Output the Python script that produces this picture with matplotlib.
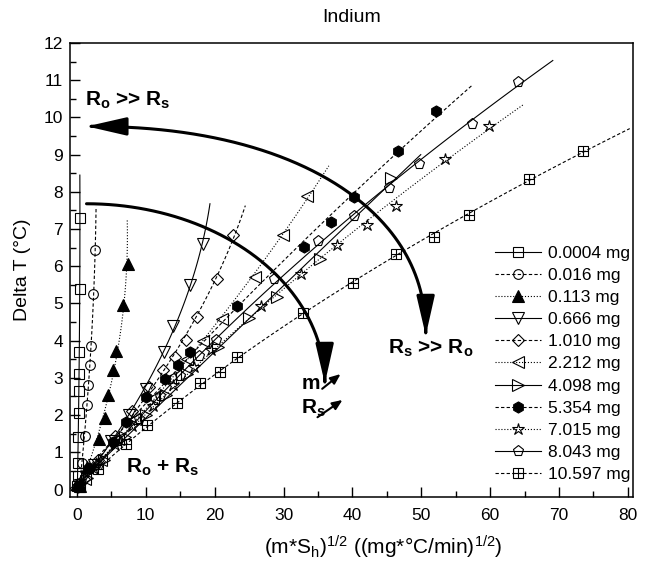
import numpy as np
import matplotlib
matplotlib.use('Agg')
import matplotlib.pyplot as plt
from matplotlib.lines import Line2D
from matplotlib.patches import FancyArrowPatch
from matplotlib.path import Path

plt.rcParams['font.family'] = ['Liberation Sans', 'DejaVu Sans']
plt.rcParams['mathtext.fontset'] = 'custom'
plt.rcParams['mathtext.rm'] = 'Liberation Sans'
plt.rcParams['mathtext.it'] = 'Liberation Sans:italic'
plt.rcParams['mathtext.bf'] = 'Liberation Sans:bold'

# sample masses (legend)
labels = ['0.0004 mg', '0.016 mg', '0.113 mg', '0.666 mg', '1.010 mg', '2.212 mg',
          '4.098 mg', '5.354 mg', '7.015 mg', '8.043 mg', '10.597 mg']

# (m*Sh)^1/2 and Delta T
x_0004 = [0.05, 0.1, 0.15, 0.2, 0.25, 0.3, 0.3, 0.35, 0.4, 0.45]
y_0004 = [0.1, 0.35, 0.7, 1.4, 2.05, 2.65, 3.1, 3.7, 5.4, 7.3]
x_016 = [0.3, 0.8, 1.2, 1.5, 1.6, 1.9, 2.0, 2.4, 2.7]
y_016 = [0.15, 0.7, 1.45, 2.26, 2.8, 3.35, 3.85, 5.25, 6.45]
x_113 = [0.4, 1.5, 3.2, 4.1, 4.5, 5.2, 5.75, 6.7, 7.4]
y_113 = [0.1, 0.6, 1.37, 1.91, 2.53, 3.22, 3.71, 4.97, 6.05]
x_666 = [0.5, 2.5, 5, 7.5, 10, 12.7, 14.0, 16.4, 18.3]
y_666 = [0.13, 0.65, 1.3, 2.0, 2.7, 3.7, 4.4, 5.5, 6.6]
x_1010 = [1, 3, 5.5, 8, 10.5, 12.5, 14.2, 15.9, 17.5, 20.3, 22.6]
y_1010 = [0.28, 0.8, 1.45, 2.1, 2.75, 3.2, 3.55, 4.02, 4.63, 5.67, 6.83]
x_2212 = [1.2, 3.5, 6, 8.5, 11, 13.5, 16, 18.3, 21.1, 25.8, 29.9, 33.4]
y_2212 = [0.27, 0.8, 1.35, 1.9, 2.45, 3.0, 3.5, 4.0, 4.57, 5.71, 6.83, 7.9]
x_4098 = [1.5, 4, 7, 10, 13, 16, 20.5, 25, 29, 35.3, 45.6]
y_4098 = [0.3, 0.8, 1.4, 2.0, 2.55, 3.1, 3.83, 4.62, 5.17, 6.2, 8.36]
x_5354 = [0.1, 1.8, 5.2, 7.2, 10.1, 12.8, 14.7, 16.4, 23.2, 33.0, 36.9, 40.3, 46.6, 52.2]
y_5354 = [0.08, 0.57, 1.27, 1.81, 2.48, 2.98, 3.35, 3.69, 4.93, 6.53, 7.2, 7.86, 9.09, 10.17]
x_7015 = [0.5, 2.5, 5.5, 8, 11, 14, 17, 19.5, 26.7, 32.6, 37.7, 42.1, 46.3, 53.4, 59.8]
y_7015 = [0.12, 0.55, 1.2, 1.7, 2.25, 2.8, 3.3, 3.75, 4.92, 5.8, 6.56, 7.12, 7.61, 8.87, 9.78]
x_8043 = [0.5, 3, 6, 9, 12, 15, 17.7, 20.2, 28.6, 35.0, 40.3, 45.3, 49.6, 57.3, 64.0]
y_8043 = [0.1, 0.65, 1.3, 1.9, 2.5, 3.05, 3.6, 4.03, 5.66, 6.69, 7.35, 8.11, 8.76, 9.83, 10.95]
x_10597 = [0.5, 3.1, 7.1, 10.2, 14.6, 17.9, 20.8, 23.2, 32.8, 40.1, 46.4, 51.9, 56.9, 65.7, 73.5]
y_10597 = [0.08, 0.55, 1.23, 1.73, 2.32, 2.86, 3.17, 3.55, 4.75, 5.56, 6.33, 6.78, 7.39, 8.35, 9.09]

# where each fitted line stops (Delta T)
fit_end = [8.45, 7.6, 7.25, 7.68, 7.63, 8.7, 9.0, 10.86, 10.35, 11.53, 9.7]

xs = [x_0004, x_016, x_113, x_666, x_1010, x_2212, x_4098, x_5354, x_7015, x_8043, x_10597]
ys = [y_0004, y_016, y_113, y_666, y_1010, y_2212, y_4098, y_5354, y_7015, y_8043, y_10597]

markers = ['s', 'o', '^', 'v', 'D', '<', '>', 'h', '*', 'p', 's']
fills = ['none', 'none', 'k', 'none', 'none', 'none', 'none', 'k', 'none', 'none', 'none']
msizes = [7, 7, 8, 8, 6, 8, 8, 8, 9, 8, 7]
lstyles = ['-', (0, (3, 2)), ':', '-', (0, (3, 2)), ':', '-', (0, (3, 2)), ':', '-', (0, (3, 2))]

fig = plt.figure(figsize=(6.45, 5.66), dpi=100)
ax = fig.add_axes([0.1085, 0.122, 0.8725, 0.802])

handles = []
for i in range(len(xs)):
    x = np.array(xs[i])
    y = np.array(ys[i])
    c = np.polyfit(y, x, 2)
    yy = np.linspace(0, fit_end[i], 100)
    ax.plot(np.polyval(c, yy), yy, color='k', lw=0.8, ls=lstyles[i])
    ax.plot(x, y, ls='none', marker=markers[i], ms=msizes[i], mfc=fills[i],
            mec='k', mew=0.8, color='k')
    h = Line2D([], [], color='k', lw=0.8, ls=lstyles[i], marker=markers[i],
               ms=msizes[i], mfc=fills[i], mec='k', mew=0.8)
    if i == len(xs) - 1:
        # square with a cross inside
        ax.plot(x, y, ls='none', marker='+', ms=msizes[i], mec='k', mew=0.8)
        h = (h, Line2D([], [], ls='none', marker='+', ms=msizes[i], mec='k', mew=0.8))
    handles.append(h)

ax.set_xlim(-1, 80.7)
ax.set_ylim(-0.2, 12)
ax.set_xticks(np.arange(0, 81, 10))
ax.set_xticks(np.arange(0, 81, 5), minor=True)
ax.set_yticks(np.arange(0, 13, 1))
ax.set_yticks(np.arange(0, 12.1, 0.5), minor=True)
ax.tick_params(which='both', direction='in', top=False, right=False, labelsize=12.5)
ax.tick_params(which='major', length=7, width=1)
ax.tick_params(which='minor', length=4.5, width=1)
ax.tick_params(axis='x', pad=8)
ax.tick_params(axis='y', pad=5)
for s in ax.spines.values():
    s.set_linewidth(1.1)

ax.set_title('Indium', fontsize=14, pad=15)
ax.set_ylabel('Delta T (°C)', fontsize=14, labelpad=9)
ax.set_xlabel(r'(m*S$_\mathregular{h}$)$^\mathregular{1/2}$ ((mg*°C/min)$^\mathregular{1/2}$)',
              fontsize=15, labelpad=8, x=0.556)

ax.legend(handles, labels, loc='lower right', bbox_to_anchor=(0.995, 0.033),
          frameon=False, fontsize=12.5, handlelength=2.6, handletextpad=0.4,
          labelspacing=0.4, borderpad=0, borderaxespad=0)

# outer double arrow
t = np.linspace(np.pi / 2, 0, 200)
ox = 1.45 + 49.2 * np.cos(t) ** (2 / 2.2)
oy = 4.14 + 5.62 * np.sin(t) ** (2 / 2.2)
outer = FancyArrowPatch(path=Path(np.column_stack([ox, oy])), transform=ax.transData,
                        arrowstyle='<|-|>,head_length=24,head_width=5.5',
                        color='k', lw=2.2, shrinkA=0, shrinkB=0)
ax.add_patch(outer)

# inner arrow
ix = 1.4 + 34.6 * np.cos(t)
iy = 2.85 + 4.83 * np.sin(t)
inner = FancyArrowPatch(path=Path(np.column_stack([ix, iy])), transform=ax.transData,
                        arrowstyle='-|>,head_length=24,head_width=5.5',
                        color='k', lw=2.2, shrinkA=0, shrinkB=0)
ax.add_patch(inner)

# small arrows for m and Rs
ax.annotate('', xy=(38.6, 3.15), xytext=(35.3, 2.66),
            arrowprops=dict(arrowstyle='-|>,head_length=0.6,head_width=0.25', color='k', lw=1.5))
ax.annotate('', xy=(38.9, 2.45), xytext=(34.6, 1.9),
            arrowprops=dict(arrowstyle='-|>,head_length=0.6,head_width=0.25', color='k', lw=1.5))

bold = dict(fontsize=15, fontweight='bold', va='center', ha='left')
ax.text(1.2, 10.45, r'R$_\mathbf{o}$ >> R$_\mathbf{s}$', **bold)
ax.text(45.1, 3.79, r'R$_\mathbf{s}$ >> R$_\mathbf{o}$', **bold)
ax.text(7.2, 0.59, r'R$_\mathbf{o}$ + R$_\mathbf{s}$', **bold)
ax.text(32.6, 2.85, 'm', **bold)
ax.text(32.6, 2.18, r'R$_\mathbf{s}$', **bold)

fig.savefig('out.png', dpi=100)
